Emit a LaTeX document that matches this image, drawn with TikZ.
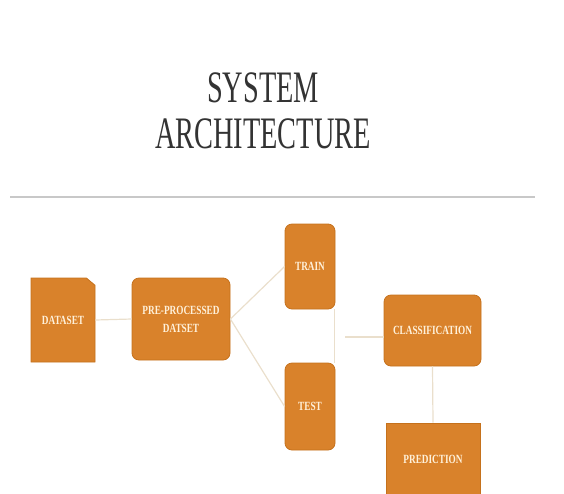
\documentclass[tikz,border=0pt]{standalone}
\usepackage{fontspec}
\setmainfont{Liberation Serif}
\usetikzlibrary{positioning, shapes.misc}

\definecolor{boxfill}{HTML}{D9822B}
\definecolor{boxedge}{HTML}{C5711C}
\definecolor{boxtext}{HTML}{FFF1DA}
\definecolor{linkline}{HTML}{EADFCC}
\definecolor{rulegray}{HTML}{C8C8C8}
\definecolor{titlegray}{HTML}{333333}

% squeezed lettering, like the slide it was taken from
\newcommand{\narrow}[1]{\scalebox{0.74}[1]{#1}}
\newcommand{\titlenarrow}[1]{\scalebox{0.63}[1]{#1}}

\begin{document}
\begin{tikzpicture}[
    x=1pt, y=-1pt,
    stage/.style={draw=boxedge, fill=boxfill, line width=0.8pt, text=boxtext,
      align=center, inner sep=0pt, font=\fontsize{12.5}{18}\selectfont\bfseries},
    roundstage/.style={stage, rounded corners=7pt},
    link/.style={draw=linkline, line width=1.2pt}
  ]
  \useasboundingbox (0,0) rectangle (564,493);

  % --- Title ---
  \node[text=titlegray, align=center, font=\fontsize{45}{46}\selectfont] (title) at (263,111)
    {\titlenarrow{SYSTEM}\\\titlenarrow{ARCHITECTURE}};
  \draw[rulegray, line width=2.5pt] (10,197) -- (535,197);

  % --- Stages ---
  \node[stage, chamfered rectangle, chamfered rectangle corners=north east,
    chamfered rectangle xsep=9pt, chamfered rectangle angle=50,
    minimum width=64pt, minimum height=84pt] (dataset) at (63,320) {\narrow{DATASET}};
  \node[roundstage, minimum width=98pt, minimum height=82pt] (pre) at (181,319)
    {\narrow{PRE-PROCESSED}\\\narrow{DATSET}};
  \node[roundstage, minimum width=50pt, minimum height=85pt] (train) at (310,266.5) {\narrow{TRAIN}};
  \node[roundstage, minimum width=50pt, minimum height=87pt] (test) at (310,406.5) {\narrow{TEST}};
  \node[roundstage, minimum width=97pt, minimum height=71pt] (class) at (432.5,330.5) {\narrow{CLASSIFICATION}};
  \node[stage, minimum width=94pt, minimum height=72pt] (pred) at (433,459) {\narrow{PREDICTION}};

  % --- Links ---
  \coordinate (join) at (345,337);
  \draw[link] (dataset.east) -- (pre.west);
  \draw[link] (pre.east) -- (train.west);
  \draw[link] (pre.east) -- (test.west);
  \draw[link] ([xshift=-1pt]train.south east) -- ([xshift=-1pt]test.north east);
  \draw[link] (join) -- (join -| class.west);
  \draw[link] (class.south) -- (pred.north);

\end{tikzpicture}
\end{document}
